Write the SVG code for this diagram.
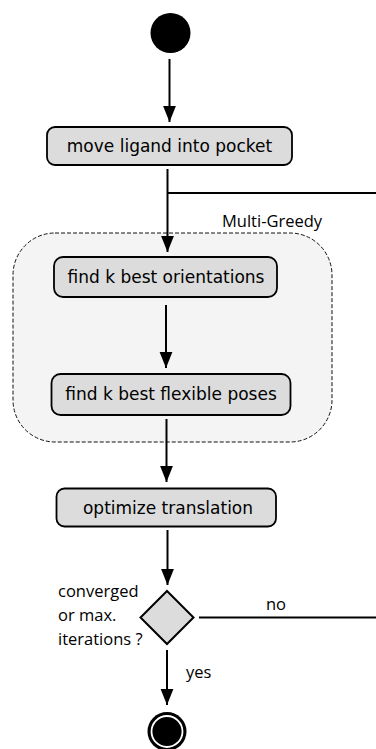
<svg xmlns="http://www.w3.org/2000/svg" width="376" height="749" viewBox="0 0 376 749">
<defs>
<marker id="arr" markerWidth="16" markerHeight="20" refX="20" refY="8" viewBox="0 0 20 16" markerUnits="userSpaceOnUse" orient="auto">
<path d="M0,0 L20,8 L0,16 Z" fill="#000"/>
</marker>
<style>
.box{fill:#dcdcdc;stroke:#000;stroke-width:1.8}
.btxt{font-family:"DejaVu Sans",sans-serif;font-size:17px;fill:#000;text-anchor:middle}
.lbl{font-family:"Open Sans","Liberation Sans",sans-serif;font-size:16.5px;fill:#000}
.ln{stroke:#000;stroke-width:2;fill:none}
.arrow{stroke:#000;stroke-width:2;fill:none;marker-end:url(#arr)}
</style>
</defs>
<rect width="376" height="749" fill="#fff"/>
<g id="multi-greedy">
<rect x="13" y="233" width="319" height="209" rx="42" ry="42" fill="#f4f4f4" stroke="#111" stroke-width="1" stroke-dasharray="4,2"/>
<text class="lbl" x="222" y="227">Multi-Greedy</text>
</g>
<g id="connectors">
<line class="arrow" x1="169.5" y1="59" x2="169.5" y2="122"/>
<line class="arrow" x1="167.5" y1="169" x2="167.5" y2="252"/>
<line class="ln" x1="167.5" y1="193" x2="376" y2="193"/>
<line class="arrow" x1="166" y1="305" x2="166" y2="368"/>
<line class="arrow" x1="166.5" y1="419" x2="166.5" y2="482"/>
<line class="arrow" x1="167.5" y1="530" x2="167.5" y2="585"/>
<line class="arrow" x1="167" y1="650" x2="167" y2="705"/>
<line class="ln" x1="199" y1="617.5" x2="376" y2="617.5"/>
<text class="lbl" x="266" y="610">no</text>
<text class="lbl" x="186" y="678">yes</text>
</g>
<g id="start">
<circle cx="170.5" cy="33" r="20" fill="#000"/>
</g>
<g id="move">
<rect class="box" x="47" y="127" width="245" height="38" rx="8"/>
<text class="btxt" x="169.5" y="152">move ligand into pocket</text>
</g>
<g id="orient">
<rect class="box" x="54" y="257" width="223" height="40" rx="9"/>
<text class="btxt" x="166" y="283">find k best orientations</text>
</g>
<g id="flex">
<rect class="box" x="51.5" y="374" width="239" height="41" rx="9"/>
<text class="btxt" x="171" y="400">find k best flexible poses</text>
</g>
<g id="optimize">
<rect class="box" x="56.5" y="488.5" width="219.5" height="38" rx="8"/>
<text class="btxt" x="168" y="514">optimize translation</text>
</g>
<g id="decision">
<polygon points="167,591 193.5,617.5 167,644 140.5,617.5" fill="#dcdcdc" stroke="#000" stroke-width="2"/>
<text class="lbl" x="58" y="597">converged</text>
<text class="lbl" x="58" y="621">or max.</text>
<text class="lbl" x="58" y="645">iterations ?</text>
</g>
<g id="end">
<circle cx="167" cy="731.5" r="19.5" fill="#000"/>
<circle cx="167" cy="731.5" r="15.5" fill="none" stroke="#fff" stroke-width="1.8"/>
</g>
</svg>
